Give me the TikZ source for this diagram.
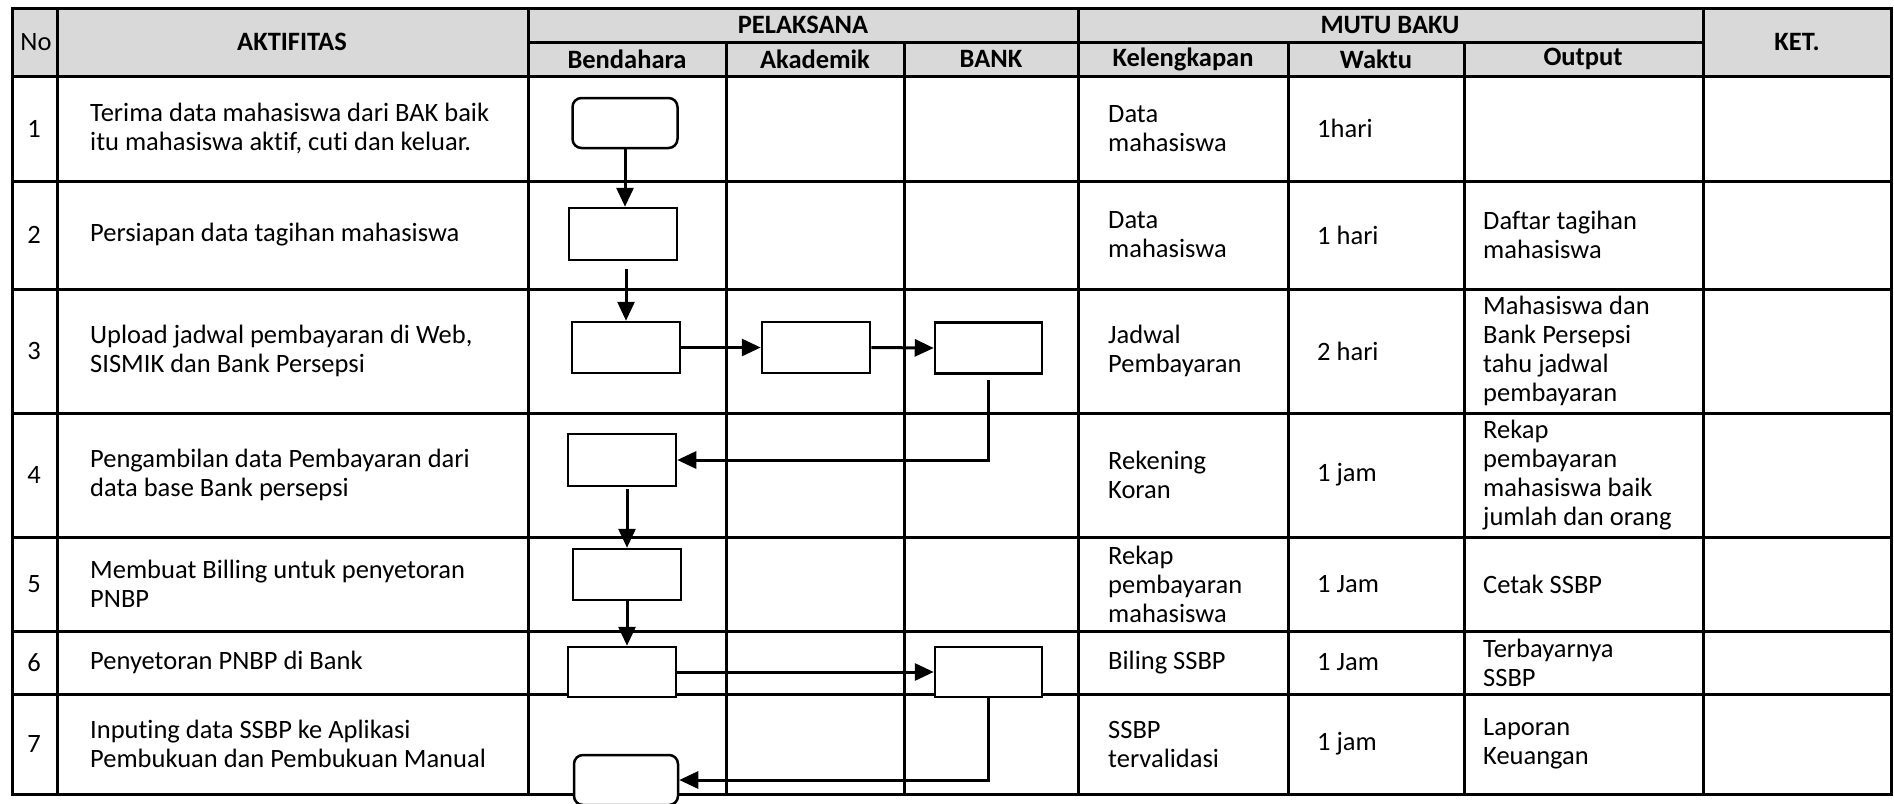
\documentclass[tikz,border=0pt]{standalone}
\usepackage{fontspec}
\setmainfont{Carlito}[Ligatures=CommonOff]
\usetikzlibrary{arrows.meta,calc}
\definecolor{hdr}{HTML}{D9D9D9}
\begin{document}
\begin{tikzpicture}[x=1pt,y=-1pt,
  grid/.style={line width=3pt},
  box/.style={draw, fill=white, line width=2.5pt, minimum width=108pt, minimum height=51pt, inner sep=0pt},
  rbox/.style={box, rounded corners=9pt},
  arr/.style={line width=3pt, -{Triangle[length=19pt,width=17pt]}},
  txt/.style={anchor=west, align=left, inner sep=0pt, font=\fontsize{26.5}{29}\selectfont},
  hd/.style={inner sep=0pt, font=\fontsize{26.5}{29}\selectfont\bfseries},
  num/.style={inner sep=0pt, font=\fontsize{26.5}{29}\selectfont}]
\useasboundingbox (0,0) rectangle (1894,803);
% header background
\fill[hdr] (12,8) rectangle (1891,76);
% grid
\draw[grid] (12,8) rectangle (1891,794);
\draw[grid] (528,42) -- (1703,42);
\foreach \yy in {76,181,289,413,537,631,694} \draw[grid] (12,\yy) -- (1891,\yy);
\foreach \xx in {57,528,1078,1703} \draw[grid] (\xx,8) -- (\xx,794);
\foreach \xx in {726,904,1288,1464} \draw[grid] (\xx,42) -- (\xx,794);
% header texts
\node[num] (hNo) at (36,42) {No};
\node[hd] (hAkt) at (292,42) {AKTIFITAS};
\node[hd] (hPel) at (803,25) {PELAKSANA};
\node[hd] (hMutu) at (1390,25) {MUTU BAKU};
\node[hd] (hKet) at (1797,42) {KET.};
\node[hd] (hBen) at (627,59) {Bendahara};
\node[hd] (hAka) at (815,59) {Akademik};
\node[hd] (hBank) at (991,59) {BANK};
\node[hd] (hKel) at (1183,59) {Kelengkapan};
\node[hd] (hWak) at (1376,59) {Waktu};
\node[hd] (hOut) at (1583,59) {Output};
% numbers
\node[num] (n1) at (34,128.5) {1};
\node[num] (n2) at (34,235) {2};
\node[num] (n3) at (34,351) {3};
\node[num] (n4) at (34,475) {4};
\node[num] (n5) at (34,584) {5};
\node[num] (n6) at (34,662.5) {6};
\node[num] (n7) at (34,744) {7};
% activities
\node[txt] (a1) at (90,128.5) {Terima data mahasiswa dari BAK baik\\itu mahasiswa aktif, cuti dan keluar.};
\node[txt] (a2) at (90,235) {Persiapan data tagihan mahasiswa};
\node[txt] (a3) at (90,351) {Upload jadwal pembayaran di Web,\\SISMIK dan Bank Persepsi};
\node[txt] (a4) at (90,475) {Pengambilan data Pembayaran dari\\data base Bank persepsi};
\node[txt] (a5) at (90,584) {Membuat Billing untuk penyetoran\\PNBP};
\node[txt] (a6) at (90,662.5) {Penyetoran PNBP di Bank};
\node[txt] (a7) at (90,744) {Inputing data SSBP ke Aplikasi\\Pembukuan dan Pembukuan Manual};
% kelengkapan
\node[txt] (k1) at (1108,128.5) {Data\\mahasiswa};
\node[txt] (k2) at (1108,235) {Data\\mahasiswa};
\node[txt] (k3) at (1108,351) {Jadwal\\Pembayaran};
\node[txt] (k4) at (1108,475) {Rekening\\Koran};
\node[txt] (k5) at (1108,584) {Rekap\\pembayaran\\mahasiswa};
\node[txt] (k6) at (1108,662.5) {Biling SSBP};
\node[txt] (k7) at (1108,744) {SSBP\\tervalidasi};
% waktu
\node[txt] (w1) at (1317,128.5) {1hari};
\node[txt] (w2) at (1317,235) {1 hari};
\node[txt] (w3) at (1317,351) {2 hari};
\node[txt] (w4) at (1317,475) {1 jam};
\node[txt] (w5) at (1317,584) {1 Jam};
\node[txt] (w6) at (1317,662.5) {1 Jam};
\node[txt] (w7) at (1317,744) {1 jam};
% output
\node[txt] (o2) at (1483,235) {Daftar tagihan\\mahasiswa};
\node[txt] (o3) at (1483,351) {Mahasiswa dan\\Bank Persepsi\\tahu jadwal\\pembayaran};
\node[txt] (o4) at (1483,475) {Rekap\\pembayaran\\mahasiswa baik\\jumlah dan orang};
\node[txt] (o5) at (1483,584) {Cetak SSBP};
\node[txt] (o6) at (1483,662.5) {Terbayarnya\\SSBP};
\node[txt] (o7) at (1483,744) {Laporan\\Keuangan};
% flow boxes
\node[rbox, minimum width=105pt, minimum height=50pt] (b1) at (625,123) {};
\node[box, minimum height=52pt] (b2) at (623,234) {};
\node[box] (b3) at (626,347.5) {};
\node[box] (b3a) at (816,347.5) {};
\node[box, minimum width=107pt] (b3b) at (988.5,348) {};
\node[box, minimum height=52pt] (b4) at (622,460) {};
\node[box] (b5) at (627,574.5) {};
\node[box, minimum height=50pt] (b6) at (622,672) {};
\node[box, minimum width=107pt, minimum height=50pt] (b6b) at (988.5,672) {};
\node[rbox, minimum width=104pt, minimum height=50pt] (b7) at (626,780) {};
% connectors
\draw[arr] (b1.south) -- (b1.south |- b2.north);
\draw[arr] ($(b3.north |- b2.south)+(0,8)$) -- (b3.north);
\draw[arr] (b3.east) -- (b3a.west);
\draw[arr] (b3a.east) -- (b3b.west);
\draw[arr] ($(b3b.south)+(0,5)$) |- (b4.east);
\draw[arr] ($(b5.north |- b4.south)+(0,2)$) -- (b5.north);
\draw[arr] (b5.south) -- (b5.south |- b6.north);
\draw[arr] (b6.east) -- (b6b.west);
\draw[arr] (b6b.south) |- (b7.east);
\end{tikzpicture}
\end{document}
